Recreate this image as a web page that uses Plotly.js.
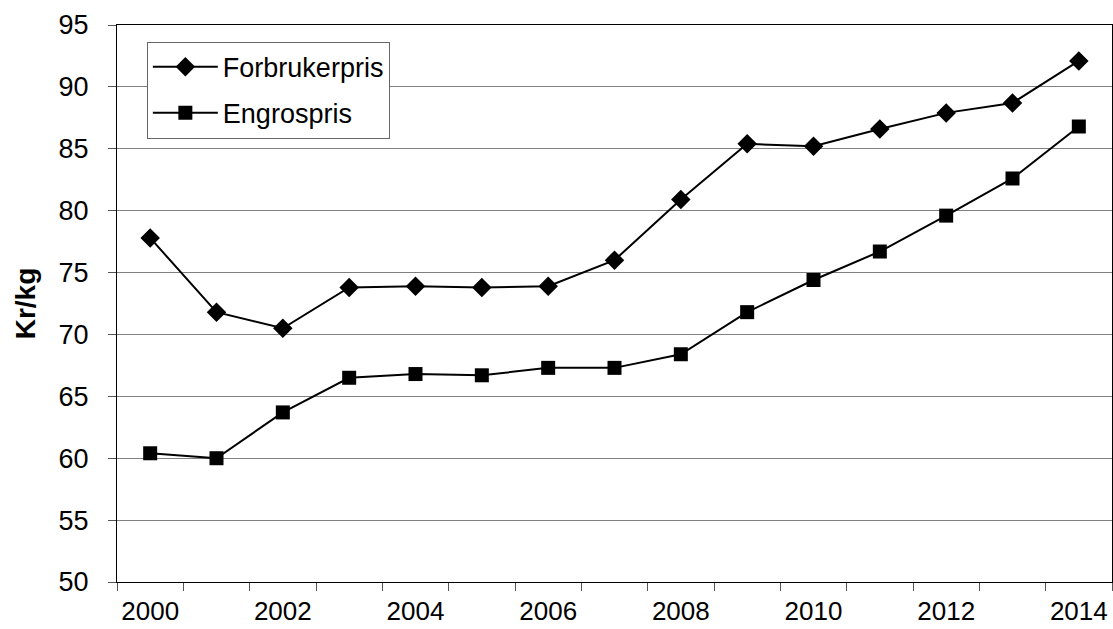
<!DOCTYPE html>
<html>
<head>
<meta charset="utf-8">
<script src="https://cdn.plot.ly/plotly-3.0.1.min.js"></script>
<style>html,body{margin:0;padding:0;background:#fff;}#chart{width:1113px;height:629px;}</style>
</head>
<body>
<div id="chart"></div>
<script>
const years = [2000, 2001, 2002, 2003, 2004, 2005, 2006, 2007, 2008, 2009, 2010, 2011, 2012, 2013, 2014];
const forbrukerpris = [77.8, 71.8, 70.5, 73.8, 73.9, 73.8, 73.9, 76.0, 80.9, 85.4, 85.2, 86.6, 87.9, 88.7, 92.1];
const engrospris = [60.4, 60.0, 63.7, 66.5, 66.8, 66.7, 67.3, 67.3, 68.4, 71.8, 74.4, 76.7, 79.6, 82.6, 86.8];
const xTickVals = [2000, 2002, 2004, 2006, 2008, 2010, 2012, 2014];
const xTickText = ['2000', '2002', '2004', '2006', '2008', '2010', '2012', '2014'];
const yTickVals = [50, 55, 60, 65, 70, 75, 80, 85, 90, 95];

const font = {family: 'Liberation Sans, Arial, sans-serif', size: 27, color: '#000'};
const xFont = {family: 'Liberation Sans, Arial, sans-serif', size: 26, color: '#000'};
const titleFont = {family: 'Liberation Sans, Arial, sans-serif', size: 28, color: '#000'};

const traces = [
  {x: years, y: forbrukerpris, name: 'Forbrukerpris', type: 'scatter', mode: 'lines+markers',
   legendgroup: 'a',
   line: {color: '#000', width: 2}, marker: {symbol: 'diamond', size: 15, color: '#000'}},
  {x: years, y: engrospris, name: 'Engrospris', type: 'scatter', mode: 'lines+markers',
   legendgroup: 'b',
   line: {color: '#000', width: 2}, marker: {symbol: 'square', size: 14, color: '#000'}}
];

const layout = {
  width: 1113, height: 629,
  margin: {l: 117, r: 1, t: 25, b: 47},
  paper_bgcolor: '#fff', plot_bgcolor: '#fff',
  font: font,
  showlegend: true,
  legend: {x: 0.03, y: 0.97, xanchor: 'left', yanchor: 'top', bgcolor: '#fff',
           bordercolor: '#666', borderwidth: 1, font: font, traceorder: 'grouped', tracegroupgap: 8,
           itemwidth: 65},
  xaxis: {range: [1999.5, 2014.5], tickmode: 'array', tickvals: xTickVals, ticktext: xTickText,
          ticks: '', showgrid: false, zeroline: false, showline: true, linecolor: '#000', linewidth: 1,
          mirror: true, tickfont: xFont, ticklabelstandoff: 6,
          minor: {ticks: 'outside', tick0: 1999.5, dtick: 1, ticklen: 8, tickcolor: '#555', showgrid: false}},
  yaxis: {range: [50, 95], tickmode: 'array', tickvals: yTickVals, ticks: 'outside', ticklen: 8,
          tickcolor: '#555', showgrid: true, gridcolor: '#808080', gridwidth: 1, zeroline: false,
          showline: true, linecolor: '#000', linewidth: 1, mirror: true, tickfont: font,
          ticklabelstandoff: 14,
          title: {text: '<b>Kr/kg</b>', font: titleFont, standoff: 14}}
};

Plotly.newPlot('chart', traces, layout, {displayModeBar: false, staticPlot: true});
</script>
</body>
</html>
